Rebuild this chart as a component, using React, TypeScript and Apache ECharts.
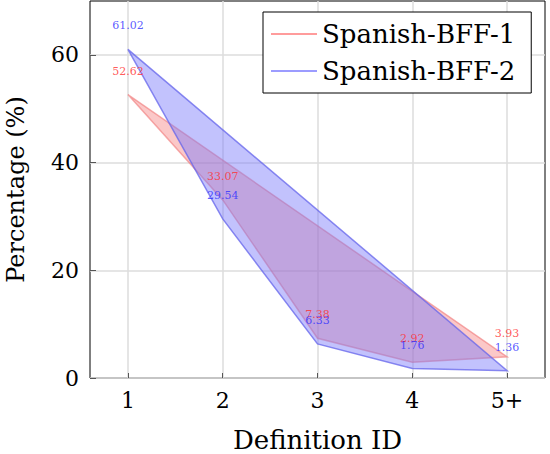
import React, { useEffect, useRef } from 'react';
import * as echarts from 'echarts';

const defIds = [1, 2, 3, 4, 5];
const xTickLabels = ['1', '2', '3', '4', '5+'];
const bff1 = [52.62, 33.07, 7.38, 2.92, 3.93];
const bff2 = [61.02, 29.54, 6.33, 1.76, 1.36];
const yTicks = [0, 20, 40, 60];

const FONT = 'DejaVu Serif';

const polygonSeries = (name: string, vals: number[], fill: string, stroke: string) => ({
  name,
  type: 'custom',
  itemStyle: { color: stroke },
  data: defIds.map((x, i) => [x, vals[i]]),
  renderItem: (params: any, api: any) => {
    if (params.dataIndex !== 0) return null;
    const pts = defIds.map((x, i) => api.coord([x, vals[i]]));
    return {
      type: 'polygon',
      shape: { points: pts },
      style: { fill, stroke, lineWidth: 1.5 },
    };
  },
});

const labelSeries = (name: string, vals: number[], color: string) => ({
  name,
  type: 'scatter',
  symbolSize: 0,
  data: defIds.map((x, i) => [x, vals[i]]),
  label: {
    show: true,
    position: 'top',
    distance: 18,
    color,
    fontFamily: FONT,
    fontSize: 11,
    formatter: (p: any) => p.value[1].toFixed(2),
  },
  z: 5,
});

const App: React.FC = () => {
  const chartRef = useRef<HTMLDivElement>(null);

  useEffect(() => {
    if (!chartRef.current) return;
    const chart = echarts.init(chartRef.current, undefined, { renderer: 'svg' });
    const option: any = {
      animation: false,
      textStyle: { fontFamily: FONT },
      grid: {
        left: 90, right: 5, top: 1, bottom: 76,
        outerBoundsMode: 'none',
        containLabel: false,
        show: true, borderColor: '#000', borderWidth: 1,
      },
      xAxis: {
        type: 'value',
        min: 0.6,
        max: 5.4,
        name: 'Definition ID',
        nameLocation: 'middle',
        nameGap: 49,
        nameTextStyle: { fontFamily: FONT, fontSize: 26, color: '#000' },
        axisLine: { show: false },
        axisTick: { show: true, inside: true, length: 5, customValues: defIds, lineStyle: { color: '#555' } },
        axisLabel: {
          customValues: defIds,
          margin: 11,
          fontFamily: FONT,
          fontSize: 22,
          color: '#000',
          formatter: (v: number) => xTickLabels[defIds.indexOf(Math.round(v))] ?? '',
        },
        splitLine: { show: true, lineStyle: { color: '#dcdcdc', width: 1.5 } },
      },
      yAxis: {
        type: 'value',
        min: 0,
        max: 70,
        name: 'Percentage (%)',
        nameLocation: 'middle',
        nameGap: 62,
        nameTextStyle: { fontFamily: FONT, fontSize: 24, color: '#000' },
        axisLine: { show: false },
        axisTick: { show: true, inside: true, length: 6, customValues: yTicks, lineStyle: { color: '#555' } },
        axisLabel: {
          customValues: yTicks,
          margin: 11,
          fontFamily: FONT,
          fontSize: 22,
          color: '#000',
        },
        splitLine: { show: true, lineStyle: { color: '#dcdcdc', width: 1.5 } },
      },
      legend: {
        orient: 'vertical',
        left: 263,
        top: 12,
        backgroundColor: '#fff',
        borderColor: '#000',
        borderWidth: 1,
        padding: [9, 16, 9, 8],
        itemGap: 11,
        itemWidth: 46,
        itemHeight: 2,
        icon: 'rect',
        textStyle: { fontFamily: FONT, fontSize: 26, color: '#000' },
        data: [
          { name: 'Spanish-BFF-1', itemStyle: { color: '#ff9c9c' } },
          { name: 'Spanish-BFF-2', itemStyle: { color: '#9c9cff' } },
        ],
      },
      series: [
        polygonSeries('Spanish-BFF-1', bff1, 'rgba(245,110,110,0.38)', 'rgba(240,120,120,0.6)'),
        polygonSeries('Spanish-BFF-2', bff2, 'rgba(120,120,250,0.45)', 'rgba(100,100,235,0.75)'),
        labelSeries('lbl1', bff1, '#ff3030'),
        labelSeries('lbl2', bff2, '#3030ff'),
      ],
    };
    chart.setOption(option);
    return () => chart.dispose();
  }, []);

  return (
    <div
      ref={chartRef}
      style={{ position: 'fixed', left: 0, top: 0, width: '550px', height: '454px', background: '#fff' }}
    ></div>
  );
};

export default App;
